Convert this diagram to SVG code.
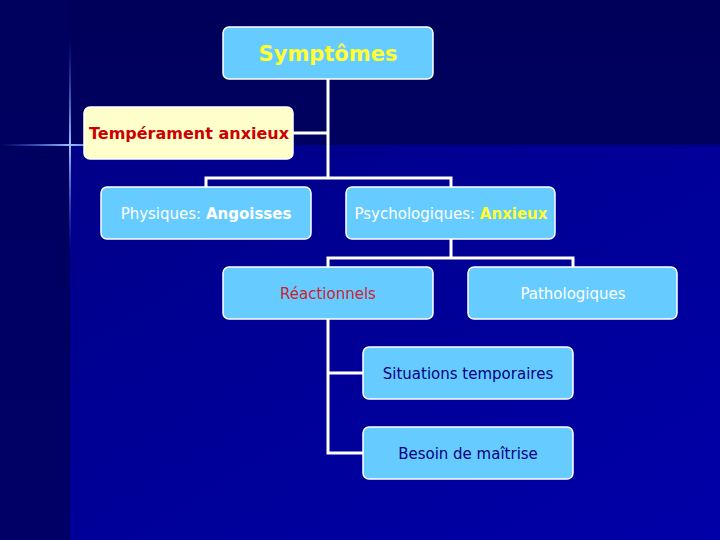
<svg xmlns="http://www.w3.org/2000/svg" width="720" height="540" viewBox="0 0 720 540">
<defs>
<linearGradient id="bgT" x1="0" y1="0" x2="0" y2="1"><stop offset="0" stop-color="#00005a"/><stop offset="1" stop-color="#000070"/></linearGradient>
<linearGradient id="bgB" x1="0" y1="0" x2="1" y2="1"><stop offset="0" stop-color="#000088"/><stop offset="1" stop-color="#0000a8"/></linearGradient>
<linearGradient id="fh" x1="0" y1="0" x2="1" y2="0"><stop offset="0" stop-color="#4070ff" stop-opacity="0"/><stop offset="0.5" stop-color="#a0c0ff"/><stop offset="1" stop-color="#4070ff" stop-opacity="0"/></linearGradient>
<linearGradient id="fv" x1="0" y1="0" x2="0" y2="1"><stop offset="0" stop-color="#4070ff" stop-opacity="0"/><stop offset="0.5" stop-color="#a0c0ff"/><stop offset="1" stop-color="#4070ff" stop-opacity="0"/></linearGradient>
<style>
.b{fill:#66ccff;stroke:#fff;stroke-width:1.5}
.c{fill:none;stroke:#fff;stroke-width:3}
text{font-family:Tahoma,"DejaVu Sans",sans-serif;text-anchor:middle}
</style>
</defs>
<rect width="720" height="540" fill="url(#bgT)"/>
<rect x="70" y="145" width="650" height="395" fill="url(#bgB)"/>
<rect x="0" y="0" width="70" height="540" fill="#000060" opacity="0.6"/>
<rect x="0" y="144" width="140" height="2" fill="url(#fh)"/>
<rect x="69" y="40" width="2" height="210" fill="url(#fv)"/>
<g id="connectors" class="c">
<path d="M328 79V178M293 133H328M206 187V178H451V187M451 239V258M328 267V258H573V267M328 319V453H363M328 373H363"/>
</g>
<g id="n1"><rect class="b" x="223" y="27" width="210" height="52" rx="6"/><text x="328" y="61" font-size="21" font-weight="bold" fill="#ffff33">Symptômes</text></g>
<g id="n2"><rect x="84" y="107" width="209" height="52" rx="6" fill="#ffffcc" stroke="#fff" stroke-width="1.5"/><text x="189" y="139" font-size="16" font-weight="bold" fill="#cc0000">Tempérament anxieux</text></g>
<g id="n3"><rect class="b" x="101" y="187" width="210" height="52" rx="6"/><text x="206" y="219" font-size="15" fill="#fff">Physiques: <tspan font-weight="bold">Angoisses</tspan></text></g>
<g id="n4"><rect class="b" x="346" y="187" width="209" height="52" rx="6"/><text x="451" y="219" font-size="15" fill="#fff">Psychologiques: <tspan font-weight="bold" fill="#ffff33">Anxieux</tspan></text></g>
<g id="n5"><rect class="b" x="223" y="267" width="210" height="52" rx="6"/><text x="328" y="299" font-size="15" fill="#cc2233">Réactionnels</text></g>
<g id="n6"><rect class="b" x="468" y="267" width="209" height="52" rx="6"/><text x="573" y="299" font-size="15" fill="#fff">Pathologiques</text></g>
<g id="n7"><rect class="b" x="363" y="347" width="210" height="52" rx="6"/><text x="468" y="379" font-size="15" fill="#000080">Situations temporaires</text></g>
<g id="n8"><rect class="b" x="363" y="427" width="210" height="52" rx="6"/><text x="468" y="459" font-size="15" fill="#000080">Besoin de maîtrise</text></g>
</svg>
